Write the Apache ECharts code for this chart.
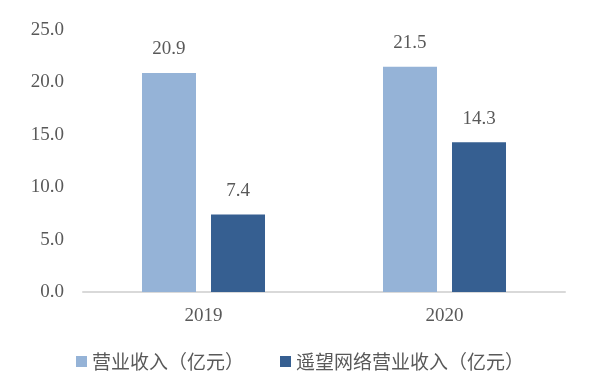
<!DOCTYPE html>
<html><head><meta charset="utf-8">
<script src="https://cdn.jsdelivr.net/npm/echarts@6/dist/echarts.min.js"></script>
<style>html,body{margin:0;padding:0;background:#fff}#c{width:600px;height:388px}</style>
</head><body><div id="c"></div>
<script>
const categories = ['2019', '2020'];
const revenue = [20.9, 21.5];
const yaowangRevenue = [7.4, 14.3];
const seriesNames = ['营业收入（亿元）', '遥望网络营业收入（亿元）'];

const chart = echarts.init(document.getElementById('c'));
const txt = '#595959';
const serif = '"Liberation Serif", "Times New Roman", serif';
chart.setOption({
  animation: false,
  grid: { left: 83, right: 35, top: 30, bottom: 96 },
  legend: {
    left: 'center', bottom: 12,
    itemWidth: 11, itemHeight: 11, itemGap: 36,
    icon: 'rect',
    textStyle: { color: txt, fontSize: 19, fontFamily: '"Noto Sans CJK SC", sans-serif' },
    data: seriesNames
  },
  xAxis: {
    type: 'category', data: categories,
    axisLine: { lineStyle: { color: '#d9d9d9', width: 2 } },
    axisTick: { show: false },
    axisLabel: { color: txt, fontSize: 19, fontFamily: serif, margin: 15 }
  },
  yAxis: {
    type: 'value', min: 0, max: 25, interval: 5,
    splitLine: { show: false },
    axisLine: { show: false }, axisTick: { show: false },
    axisLabel: { color: txt, fontSize: 19, fontFamily: serif, margin: 19,
      formatter: v => v.toFixed(1) }
  },
  series: [
    { name: seriesNames[0], type: 'bar', data: revenue, barWidth: 54, barGap: '27.8%',
      itemStyle: { color: '#95b3d7' },
      label: { show: true, position: 'top', distance: 14, color: txt, fontSize: 19, fontFamily: serif,
        formatter: p => p.value.toFixed(1) } },
    { name: seriesNames[1], type: 'bar', data: yaowangRevenue, barWidth: 54, barGap: '27.8%',
      itemStyle: { color: '#365f91' },
      label: { show: true, position: 'top', distance: 14, color: txt, fontSize: 19, fontFamily: serif,
        formatter: p => p.value.toFixed(1) } }
  ]
});
</script></body></html>
